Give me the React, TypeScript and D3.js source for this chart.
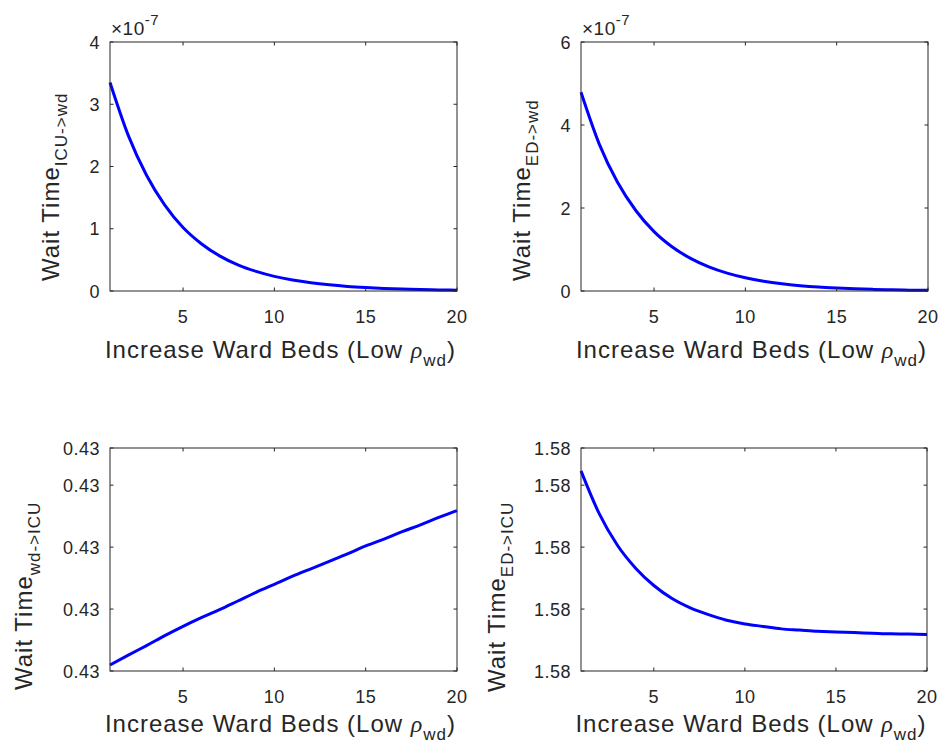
import React from 'react';
import * as d3 from 'd3';

const beds = [1, 2, 3, 4, 5, 6, 7, 8, 9, 10, 11, 12, 13, 14, 15, 16, 17, 18, 19, 20];
const icuToWd = [3.35e-7, 2.5e-7, 1.86e-7, 1.38e-7, 1.02e-7, 0.76e-7, 0.565e-7, 0.42e-7, 0.315e-7, 0.235e-7, 0.176e-7, 0.132e-7, 0.099e-7, 0.074e-7, 0.056e-7, 0.042e-7, 0.032e-7, 0.024e-7, 0.018e-7, 0.014e-7];
const edToWd = [4.79e-7, 3.54e-7, 2.62e-7, 1.94e-7, 1.43e-7, 1.06e-7, 0.785e-7, 0.58e-7, 0.43e-7, 0.318e-7, 0.235e-7, 0.174e-7, 0.129e-7, 0.095e-7, 0.071e-7, 0.052e-7, 0.039e-7, 0.029e-7, 0.021e-7, 0.016e-7];
const wdToIcu = [0.43000097, 0.43000256, 0.4300041, 0.4300057, 0.4300072, 0.4300086, 0.4300099, 0.4300113, 0.4300127, 0.430014, 0.4300153, 0.4300165, 0.4300177, 0.4300189, 0.4300202, 0.4300213, 0.4300225, 0.4300236, 0.4300248, 0.4300259];
const edToIcu = [1.5800323, 1.5800254, 1.5800203, 1.5800166, 1.5800138, 1.5800117, 1.5800102, 1.5800091, 1.5800082, 1.5800076, 1.5800072, 1.5800068, 1.5800066, 1.5800064, 1.5800063, 1.5800062, 1.5800061, 1.580006, 1.58000598, 1.5800059];

const xTicks = [5, 10, 15, 20];
const ticksICUwd = [0, 1e-7, 2e-7, 3e-7, 4e-7];
const ticksEDwd = [0, 2e-7, 4e-7, 6e-7];
const ticksWdICU = [0.43, 0.43001, 0.43002, 0.43003, 0.430036];
const ticksEDICU = [1.58, 1.58001, 1.58002, 1.58003, 1.580036];

const INK = '#262626';
const FONT = '"Liberation Sans", Arial, Helvetica, sans-serif';
const TICK_FS = 18;
const TICK_LS = 0.5;
const LAB_FS = 24;
const LAB_LS = 1;
const SUB_FS = 17;

type PanelProps = {
  left: number; top: number; right: number; bottom: number;
  data: number[]; yDomain: [number, number]; yTicks: number[];
  yFmt: (v: number) => string; exponent?: string;
  sub: string; yLabelX: number; yLabelStart: number; xLabelY: number;
};

function Panel(p: PanelProps) {
  const x = d3.scaleLinear().domain([1, 20]).range([p.left, p.right]);
  const y = d3.scaleLinear().domain(p.yDomain).range([p.bottom, p.top]);
  const line = d3.line<number>().x((_, i) => x(beds[i])).y(d => y(d)).curve(d3.curveMonotoneX);
  const tl = 3.5;
  return (
    <g>
      <rect x={p.left} y={p.top} width={p.right - p.left} height={p.bottom - p.top} fill="#fff" />
      <path d={line(p.data) || ''} fill="none" stroke="#0000ff" strokeWidth={3} strokeLinejoin="round" />
      {xTicks.map(t => (
        <g key={'x' + t}>
          <line x1={x(t)} x2={x(t)} y1={p.bottom} y2={p.bottom - tl} stroke={INK} strokeWidth={1} />
          <line x1={x(t)} x2={x(t)} y1={p.top} y2={p.top + tl} stroke={INK} strokeWidth={1} />
          <text x={x(t)} y={p.bottom + 32} textAnchor="middle" fontSize={TICK_FS} letterSpacing={TICK_LS} fill={INK} fontFamily={FONT}>{t}</text>
        </g>
      ))}
      {p.yTicks.map((t, i) => (
        <g key={'y' + i}>
          <line x1={p.left} x2={p.left + tl} y1={y(t)} y2={y(t)} stroke={INK} strokeWidth={1} />
          <line x1={p.right} x2={p.right - tl} y1={y(t)} y2={y(t)} stroke={INK} strokeWidth={1} />
          <text x={p.left - 10} y={y(t) + 6.5} textAnchor="end" fontSize={TICK_FS} letterSpacing={TICK_LS} fill={INK} fontFamily={FONT}>{p.yFmt(t)}</text>
        </g>
      ))}
      <rect x={p.left} y={p.top} width={p.right - p.left} height={p.bottom - p.top} fill="none" stroke={INK} strokeWidth={1} />
      {p.exponent && (
        <text x={p.left + 1} y={p.top - 7} fontSize={19} fill={INK} fontFamily={FONT} letterSpacing={0.5}>
          ×10<tspan dy={-10} fontSize={15}>{p.exponent}</tspan>
        </text>
      )}
      <text x={(p.left + p.right) / 2 - 3} y={p.xLabelY} textAnchor="middle" fontSize={LAB_FS} letterSpacing={LAB_LS} fill={INK} fontFamily={FONT}>
        Increase Ward Beds (Low <tspan fontStyle="italic" fontFamily='"Liberation Serif", "Times New Roman", serif'>ρ</tspan>
        <tspan dy={8} fontSize={SUB_FS}>wd</tspan>
        <tspan dy={-8}>)</tspan>
      </text>
      <text transform={`translate(${p.yLabelX},${p.yLabelStart}) rotate(-90)`} textAnchor="start" fontSize={LAB_FS} letterSpacing={LAB_LS} fill={INK} fontFamily={FONT}>
        Wait Time<tspan dy={8} fontSize={SUB_FS}>{p.sub}</tspan>
      </text>
    </g>
  );
}

const fmtE7 = (v: number) => String(Math.round(v / 1e-7));
const fmt2 = (v: number) => d3.format('.2f')(v);

export default function App() {
  return (
    <svg width={945} height={753} style={{ position: 'absolute', left: 0, top: 0, background: '#fff' }}>
      <rect x={0} y={0} width={945} height={753} fill="#fff" />
      <Panel left={110} top={42} right={457} bottom={291} data={icuToWd} yDomain={[0, 4e-7]} yTicks={ticksICUwd} yFmt={fmtE7} exponent="-7" sub="ICU->wd" yLabelX={59} yLabelStart={281} xLabelY={358} />
      <Panel left={581} top={42} right={928} bottom={291} data={edToWd} yDomain={[0, 6e-7]} yTicks={ticksEDwd} yFmt={fmtE7} exponent="-7" sub="ED->wd" yLabelX={530} yLabelStart={281} xLabelY={358} />
      <Panel left={110} top={448} right={457} bottom={671} data={wdToIcu} yDomain={[0.43, 0.430036]} yTicks={ticksWdICU} yFmt={fmt2} sub="wd->ICU" yLabelX={32} yLabelStart={690} xLabelY={732} />
      <Panel left={581} top={448} right={927} bottom={671} data={edToIcu} yDomain={[1.58, 1.580036]} yTicks={ticksEDICU} yFmt={fmt2} sub="ED->ICU" yLabelX={505} yLabelStart={692} xLabelY={732} />
    </svg>
  );
}
